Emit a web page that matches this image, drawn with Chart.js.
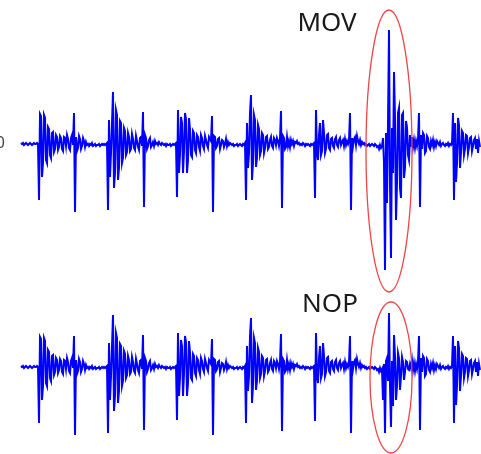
<!DOCTYPE html>
<html>
<head>
<meta charset="utf-8">
<title>MOV / NOP</title>
<script src="https://cdn.jsdelivr.net/npm/chart.js@4.4.0/dist/chart.umd.min.js"></script>
<style>
	html, body { margin: 0; padding: 0; background: #fff; }
	#trace { display: block; }
</style>
</head>
<body>
<canvas id="trace" width="481" height="454"></canvas>
<script>
// first sample index of the recording
const startSample = 21;

// samples 21..381, same in both recordings
const sigHead = [
	0, -1, 0, -2, -1, 0, -1, -2, -1, 0, -1, -2, -1, 0, -1, -1,
	0, -1, -57, 29, 27, -34, -20, 28, 25, -17,
	-20, 16, 14, -12, -15, 10, 11, -9, -6, 8,
	6, -7, -4, 7, 5, -6, -8, 6, 5, -3,
	8, 4, -5, -7, 5, 8, -2, 30, -69, 6,
	-8, -5, 7, 4, -6, -3, 5, 2, -4, 1,
	-2, -1, -3, -1, -2, 0, -3, -2, -1, -3,
	-2, -2, -1, -3, -2, -1, -2, -1, -2, -1,
	0, -67, 23, -34, -10, 20, 51, -45, -30, 33,
	28, -37, -25, 22, 20, -20, -15, 15, 12, -12,
	-9, 10, 6, -8, -6, 9, 4, -5, -7, 7,
	2, -4, -7, 5, 6, -3, 31, -64, 8, 5,
	-6, -3, 3, 5, -4, -2, 1, -3, 2, -1,
	0, -2, 1, -1, -2, 0, -1, -2, -1, -3,
	-1, -2, -2, -1, -3, -2, -1, -2, -1, 0,
	-54, 33, -30, -12, 26, 20, -30, -8, 30, 24,
	-30, -17, 25, 14, -12, -14, 12, 10, -7, -10,
	8, 6, -4, -8, 8, 5, -3, -6, 7, 3,
	-2, -5, 6, 4, 2, 27, -69, 7, 6, -5,
	-3, 4, 5, -6, -2, 3, 2, -4, -1, 4,
	-3, 1, -2, 0, -1, -2, -1, -3, -2, -2,
	-1, -3, -2, -1, -2, -3, -1, -2, 0, -57,
	20, -25, -10, 30, 48, -37, -20, 28, 23, -24,
	-15, 18, 14, -12, -8, 10, 8, -10, -5, 6,
	7, -6, -4, 3, 6, -3, -5, 5, 3, -2,
	5, 2, -3, 4, 32, -65, 7, 5, -6, -4,
	6, -3, 2, -4, 3, -1, 2, -3, 1, 0,
	2, -1, 0, -2, -1, -2, 0, -1, -3, -1,
	-2, -1, -2, -3, -1, -2, -1, 0, -55, 33,
	-10, -17, 8, 20, -12, -8, 23, 10, -10, -6,
	8, 9, -5, -7, 4, 5, -3, -5, 4, 6,
	-2, -4, 3, 5, -2, 1, 3, -3, 4, -2,
	2, -1, 3, 30, -67, 5, -3, 4, 6, -2,
	7, 2, -1, 3, -2, 1, -1, 0, -2, -1,
	-3, -2, -1, -3, -2, -1, -2, -3, -1, -2,
	-4, -3, -6, -2, -5
];

// samples 382..411, the highlighted instruction
const movBurst = [
	-3, 5, -20, -127, 10, -60, 20, 113, -40, -115,
	15, -30, 71, 25, -77, -40, 30, 35, -45, -55,
	28, 30, -35, -25, 22, 16, -12, -17, 8, -4
];
const nopBurst = [
	-3, -34, 2, -67, 5, 8, -15, 53, -20, -61,
	5, -40, 31, 10, -34, -20, 13, 8, -24, -10,
	9, 4, -14, -6, 5, 4, -3, -4, 2, -2
];

// samples 412..480
const sigTail = [
	6, -4, 3, -5, 2, -3, 4, 30, -64, 8,
	-6, 10, 8, -10, -8, 7, 5, -4, -6, 2,
	-2, 3, -4, 1, -3, 2, 0, -2, 1, -3,
	-1, 0, -2, -3, -1, -2, 0, -3, -1, -2,
	0, 30, -57, 20, -39, -20, 25, 18, -25, -10,
	12, 10, -12, -6, 8, 7, -10, -4, 5, 6,
	-8, -3, 3, 5, -6, 4, -10, 2, -4
];

const labels = ['MOV', 'NOP'];

const movTrace = sigHead.concat(movBurst, sigTail);
const nopTrace = sigHead.concat(nopBurst, sigTail);

function toPoints(arr) {
	return arr.map(function (v, i) { return { x: startSample + i, y: v }; });
}

// ellipse + label for each trace, in data units
const marks = [
	{ axis: 'y', label: labels[0], lx: 327, ly: 119, cx: 389, cy: -8, rx: 23, ry: 141 },
	{ axis: 'y2', label: labels[1], lx: 330, ly: 61, cx: 391, cy: -11.5, rx: 21, ry: 75.5 }
];

const markPlugin = {
	id: 'marks',
	afterDatasetsDraw(chart) {
		const ctx = chart.ctx;
		const xs = chart.scales.x;
		ctx.save();
		marks.forEach(function (m) {
			const ys = chart.scales[m.axis];
			const cx = xs.getPixelForValue(m.cx);
			const cy = ys.getPixelForValue(m.cy);
			const rx = xs.getPixelForValue(m.cx + m.rx) - cx;
			const ry = cy - ys.getPixelForValue(m.cy + m.ry);
			ctx.beginPath();
			ctx.ellipse(cx, cy, rx, ry, 0, 0, Math.PI * 2);
			ctx.strokeStyle = 'rgb(238,70,70)';
			ctx.lineWidth = 1.3;
			ctx.stroke();

			ctx.fillStyle = '#1a1a1a';
			ctx.font = '26px "Noto Sans"';
			ctx.textAlign = 'center';
			ctx.textBaseline = 'middle';
			ctx.fillText(m.label, xs.getPixelForValue(m.lx), ys.getPixelForValue(m.ly));
		});
		// cut off axis label at the left edge
		ctx.fillStyle = '#444';
		ctx.font = '16px "Noto Sans"';
		ctx.textAlign = 'right';
		ctx.fillText('0', xs.getPixelForValue(5), chart.scales.y.getPixelForValue(0));
		ctx.restore();
	}
};

new Chart(document.getElementById('trace'), {
	type: 'line',
	data: {
		datasets: [{
			label: labels[0],
			data: toPoints(movTrace),
			yAxisID: 'y',
			borderColor: '#0000ff',
			borderWidth: 2,
			pointRadius: 0,
			tension: 0
		}, {
			label: labels[1],
			data: toPoints(nopTrace),
			yAxisID: 'y2',
			borderColor: '#0000ff',
			borderWidth: 2,
			pointRadius: 0,
			tension: 0
		}]
	},
	options: {
		responsive: false,
		animation: false,
		devicePixelRatio: 1,
		layout: { padding: 0 },
		plugins: { legend: { display: false }, tooltip: { enabled: false } },
		scales: {
			x: { type: 'linear', min: 0, max: 481, display: false },
			y: { min: -311, max: 143, display: false },
			y2: { min: -88, max: 366, display: false }
		}
	},
	plugins: [markPlugin]
});
</script>
</body>
</html>
